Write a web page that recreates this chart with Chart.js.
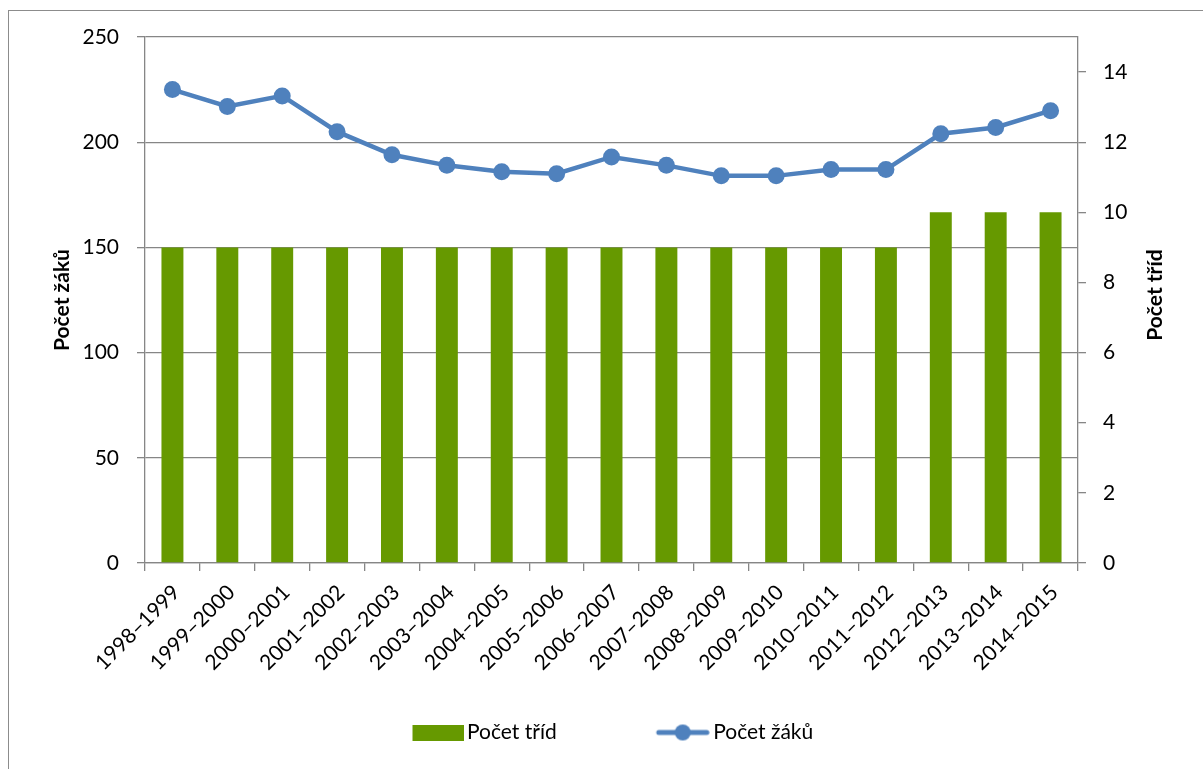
<!DOCTYPE html>
<html lang="cs">
<head>
    <meta charset="UTF-8">
    <title>Počet tříd a žáků</title>
    <style>
        html, body { margin: 0; padding: 0; background: #fff; overflow: hidden; }
        #frame {
            position: absolute; left: 8px; top: 10px;
            width: 1300px; height: 900px;
            border: 1px solid #8c8c8c;
        }
        #wrap {
            position: absolute; left: 9px; top: 11px;
            width: 1194px; height: 758px;
        }
    </style>
</head>
<body>
    <div id="frame"></div>
    <div id="wrap">
        <canvas id="myChart"></canvas>
    </div>

    <script src="https://cdn.jsdelivr.net/npm/chart.js"></script>
    <script>
        // school years
        var labels = ['1998–1999', '1999–2000', '2000–2001', '2001–2002', '2002–2003',
            '2003–2004', '2004–2005', '2005–2006', '2006–2007', '2007–2008', '2008–2009',
            '2009–2010', '2010–2011', '2011–2012', '2012–2013', '2013–2014', '2014–2015'];
        // number of classes (right axis)
        var pocetTrid = [9, 9, 9, 9, 9, 9, 9, 9, 9, 9, 9, 9, 9, 9, 10, 10, 10];
        // number of pupils (left axis)
        var pocetZaku = [225, 217, 222, 205, 194, 189, 186, 185, 193, 189, 184, 184, 187, 187, 204, 207, 215];

        var green = '#669900';
        var blue = '#4f81bd';
        var gridColor = '#868686';

        Chart.defaults.font.family = 'Lato';
        Chart.defaults.color = '#000';

        // legend spacing: the gap between items comes from a wide icon box,
        // so the legend padding can stay small vertically
        var F = 21, P = 40;
        var m = document.createElement('canvas').getContext('2d');
        m.font = F + 'px Lato';
        var T1 = m.measureText('Počet tříd').width;
        var T2 = m.measureText('Počet žáků').width;
        var text1 = 458, text2 = 704;   // wanted x of the legend texts (canvas px)
        var W = Math.round((text2 - text1) - T1 - P - F / 2);
        var x0 = text1 - F / 2 - W;
        var LW = 2 * W + F + T1 + T2 + 2 * P;
        var shift = 2 * x0 - P - 1194 + LW;   // = padLeft - padRight
        var padL = shift > 0 ? shift : 0;
        var padR = shift < 0 ? -shift : 0;
        var W2 = W + 14;   // icon image a bit wider than its box, so it sits closer to the text

        function barIcon() {
            var c = document.createElement('canvas');
            c.width = W2; c.height = 16;
            var g = c.getContext('2d');
            g.fillStyle = green;
            g.fillRect(W2 - 51, 0, 51, 16);
            return c;
        }
        function lineIcon() {
            var c = document.createElement('canvas');
            c.width = W2; c.height = 18;
            var g = c.getContext('2d');
            g.strokeStyle = blue;
            g.lineWidth = 5;
            g.lineCap = 'round';
            g.beginPath();
            g.moveTo(W2 - 51, 9); g.lineTo(W2 - 3, 9);
            g.stroke();
            g.fillStyle = blue;
            g.beginPath();
            g.arc(W2 - 27, 9, 8, 0, Math.PI * 2);
            g.fill();
            return c;
        }

        var axisTitles = {
            id: 'axisTitles',
            afterDraw: function (chart) {
                var ctx = chart.ctx;
                var area = chart.chartArea;
                var cy = (area.top + area.bottom) / 2;
                ctx.save();
                ctx.font = 'bold 21px Lato';
                ctx.fillStyle = '#000';
                ctx.textAlign = 'center';
                ctx.textBaseline = 'middle';
                [[53, cy, 'Počet žáků'], [1146, cy - 5, 'Počet tříd']].forEach(function (t) {
                    ctx.save();
                    ctx.translate(t[0], t[1]);
                    ctx.rotate(-Math.PI / 2);
                    ctx.fillText(t[2], 0, 0);
                    ctx.restore();
                });
                ctx.restore();
            }
        };

        function noVPad(s) {
            s.paddingTop = 0;
            s.paddingBottom = 0;
        }

        var ctx = document.getElementById('myChart').getContext('2d');
        var chart = new Chart(ctx, {
            type: 'bar',
            data: {
                labels: labels,
                datasets: [
                    {
                        type: 'bar',
                        label: 'Počet tříd',
                        data: pocetTrid,
                        yAxisID: 'y1',
                        backgroundColor: green,
                        barPercentage: 0.4,
                        categoryPercentage: 1,
                        order: 2
                    },
                    {
                        type: 'line',
                        label: 'Počet žáků',
                        data: pocetZaku,
                        yAxisID: 'y',
                        borderColor: blue,
                        backgroundColor: blue,
                        borderWidth: 4.5,
                        pointRadius: 8.5,
                        pointBorderWidth: 0,
                        pointBackgroundColor: blue,
                        tension: 0,
                        order: 1
                    }
                ]
            },
            options: {
                responsive: true,
                maintainAspectRatio: false,
                animation: false,
                layout: { padding: { top: 26, bottom: 16, left: padL, right: padR } },
                plugins: {
                    tooltip: { enabled: false },
                    legend: {
                        position: 'bottom',
                        labels: {
                            usePointStyle: true,
                            pointStyleWidth: W,
                            padding: P,
                            font: { size: F },
                            color: '#000',
                            generateLabels: function () {
                                return [
                                    { text: 'Počet tříd', pointStyle: barIcon(), datasetIndex: 0, fillStyle: green, strokeStyle: green, lineWidth: 0 },
                                    { text: 'Počet žáků', pointStyle: lineIcon(), datasetIndex: 1, fillStyle: blue, strokeStyle: blue, lineWidth: 0 }
                                ];
                            }
                        }
                    }
                },
                scales: {
                    x: {
                        afterFit: function (s) { s.height = 119; },
                        grid: { drawOnChartArea: false, offset: true, tickLength: 8, color: gridColor, lineWidth: 1.3 },
                        border: { color: gridColor, width: 1.3 },
                        ticks: { minRotation: 45, maxRotation: 45, padding: 9, labelOffset: 4, font: { size: 21 }, autoSkip: false }
                    },
                    y: {
                        position: 'left',
                        min: 0,
                        max: 250,
                        afterFit: function (s) { s.width = 136 - padL; noVPad(s); },
                        grid: { color: gridColor, lineWidth: 1.3, tickLength: 8 },
                        border: { color: gridColor, width: 1.3 },
                        ticks: { stepSize: 50, padding: 18, font: { size: 21 } }
                    },
                    y1: {
                        position: 'right',
                        min: 0,
                        max: 15,
                        afterFit: function (s) { s.width = 125 - padR; noVPad(s); },
                        grid: { drawOnChartArea: false, color: gridColor, lineWidth: 1.3, tickLength: 8 },
                        border: { color: gridColor, width: 1.3 },
                        ticks: { stepSize: 2, includeBounds: false, padding: 17, font: { size: 21 } }
                    }
                }
            },
            plugins: [axisTitles]
        });
    </script>
</body>
</html>
